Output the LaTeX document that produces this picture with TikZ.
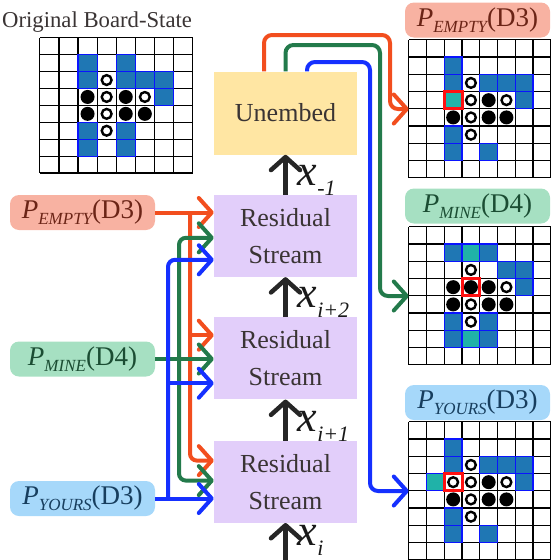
\documentclass[tikz,border=0pt]{standalone}
\usepackage{fontspec}
\setmainfont{Liberation Serif}
\usetikzlibrary{positioning}
\usetikzlibrary{arrows.meta}
\usepackage{xcolor}

\definecolor{cRed}{HTML}{F24E1E}
\definecolor{cGreen}{HTML}{237A4B}
\definecolor{cBlue}{HTML}{1530FF}
\definecolor{fEmpty}{HTML}{F8B2A2}
\definecolor{tEmpty}{HTML}{6B2416}
\definecolor{fMine}{HTML}{A6E0C2}
\definecolor{tMine}{HTML}{1B4D33}
\definecolor{fYours}{HTML}{A6D8FA}
\definecolor{tYours}{HTML}{173E5E}
\definecolor{fUnemb}{HTML}{FFE6A3}
\definecolor{fRes}{HTML}{E2CEFA}
\definecolor{sqBlue}{HTML}{1F77B4}
\definecolor{sqTeal}{HTML}{20B2A8}
\definecolor{sqEdge}{HTML}{0A14FF}
\definecolor{hiRed}{HTML}{FF1010}
\definecolor{inkGray}{HTML}{3A3434}

\newcommand{\psub}[2]{{\itshape P}\raisebox{-6pt}{\fontsize{17}{17}\selectfont\itshape #1}(#2)}
\newcommand{\xsub}[1]{{\fontsize{44}{44}\selectfont\itshape x}\raisebox{-10pt}{\fontsize{22}{22}\selectfont\itshape #1}}

% board: origin, cell width, cell height, blue cells, white pieces, black pieces
\newcommand{\board}[6]{%
	\begin{scope}[shift={#1}, x=#2, y=-#3]
		\foreach \cx/\cy in {#4} \fill[sqBlue] (\cx,\cy) rectangle ++(1,1);
		\foreach \k in {0,...,8} {\draw[gridln] (\k,0) -- (\k,8); \draw[gridln] (0,\k) -- (8,\k);}
		\foreach \cx/\cy in {#4} \draw[cell] (\cx,\cy) rectangle ++(1,1);
		\foreach \cx/\cy in {#5} \draw[wpc] (\cx+0.5,\cy+0.5) circle[radius=4.9pt];
		\foreach \cx/\cy in {#6} \fill (\cx+0.5,\cy+0.5) circle[radius=7pt];
	\end{scope}}

\begin{document}
\begin{tikzpicture}[x=1pt, y=-1pt,
	>={Straight Barb[length=13pt,width=29pt,round]},
	box/.style={rectangle, minimum width=143pt, minimum height=82pt, inner sep=0, text=inkGray, align=center, font=\fontsize{26}{37}\selectfont},
	res/.style={box, fill=fRes},
	emb/.style={box, fill=fUnemb, minimum height=83pt},
	lbl/.style={rectangle, rounded corners=9pt, minimum width=145pt, minimum height=35pt, inner sep=0, font=\fontsize{27}{27}\selectfont},
	bnode/.style={rectangle, inner sep=0, minimum width=142pt, minimum height=138pt},
	gridln/.style={line width=1.2pt, black},
	cell/.style={line width=1.2pt, draw=sqEdge},
	wpc/.style={line width=2.4pt, black, fill=white},
	hilite/.style={line width=3pt, draw=hiRed},
	flow/.style={->, line width=4.5pt, draw=black!85},
	xl/.style={pos=0, anchor=south west, xshift=10pt, yshift=-3pt, inner sep=0, text=black!90},
	redl/.style={->, line width=4pt, draw=cRed},
	greenl/.style={->, line width=4pt, draw=cGreen},
	bluel/.style={->, line width=4pt, draw=cBlue},
	]
	\useasboundingbox (0,0) rectangle (554,560);
	
	%Nodes
	\node[res]  (rs1)  at (285.5,236)          {Residual\\Stream};
	\node[res]  (rs2)  [below=40pt of rs1]     {Residual\\Stream};
	\node[res]  (rs3)  [below=41pt of rs2]     {Residual\\Stream};
	\node[emb]  (unemb) [above=40pt of rs1]    {Unembed};
	
	\node[lbl, fill=fEmpty, text=tEmpty] (lblE) at (82.5,212.5) {\psub{EMPTY}{D3}};
	\node[lbl, fill=fMine, text=tMine]   (lblM) at (82.5,359)   {\psub{MINE}{D4}};
	\node[lbl, fill=fYours, text=tYours] (lblY) at (82.5,498.5) {\psub{YOURS}{D3}};
	
	\node[lbl, fill=fEmpty, text=tEmpty] (outE) at (477.5,20)   {\psub{EMPTY}{D3}};
	\node[lbl, fill=fMine, text=tMine]   (outM) at (477.5,206)  {\psub{MINE}{D4}};
	\node[lbl, fill=fYours, text=tYours] (outY) at (477.5,402.5) {\psub{YOURS}{D3}};
	
	\node[anchor=base west, inner sep=0, text=inkGray, font=\fontsize{22.7}{22.7}\selectfont] (title) at (2,27) {Original Board-State};
	
	\node[bnode, minimum width=153pt, minimum height=135pt] (b0) at (116.5,105.5) {};
	\node[bnode] (b1) at (480,109) {};
	\node[bnode] (b2) at (480,296) {};
	\node[bnode] (b3) at (480,491) {};
	
	\coordinate (xin)   at (285.5,561);
	\coordinate (busR)  at (190,212.5);
	\coordinate (busG)  at (179,359);
	\coordinate (busB)  at (168,498.5);
	\coordinate (rs1G)  at ([yshift=-43pt]rs1.north west);
	\coordinate (rs1B)  at ([yshift=-65pt]rs1.north west);
	\coordinate (rs2R)  at ([yshift=-18pt]rs2.north west);
	\coordinate (rs2B)  at ([yshift=-66pt]rs2.north west);
	\coordinate (rs3R)  at ([yshift=-20pt]rs3.north west);
	\coordinate (rs3G)  at ([yshift=-40pt]rs3.north west);
	\coordinate (turnR) at (390,35);
	\coordinate (turnG) at (380,45);
	\coordinate (turnB) at (370,62);
	
	%Boards
	\board{(b0.north west)}{19.1pt}{16.9pt}
		{2/1,4/1,2/2,4/2,5/2,6/2,6/3,2/5,4/5,2/6,4/6}
		{3/2,3/3,5/3,3/4,3/5}
		{2/3,4/3,2/4,4/4,5/4}
	\board{(b1.north west)}{17.75pt}{17.25pt}
		{2/1,2/2,4/2,5/2,6/2,6/3,2/5,2/6,4/6}
		{3/2,3/3,5/3,3/4,3/5}
		{4/3,2/4,4/4,5/4}
	\board{(b2.north west)}{17.75pt}{17.25pt}
		{2/1,4/1,5/2,6/2,6/3,2/5,4/5,2/6,4/6}
		{3/2,5/3,3/4,3/5}
		{2/3,3/3,4/3,2/4,4/4,5/4}
	\board{(b3.north west)}{17.75pt}{17.25pt}
		{2/1,2/2,4/2,5/2,6/2,6/3,2/5,2/6,4/6}
		{2/3,3/2,3/3,5/3,3/4,3/5}
		{4/3,2/4,4/4,5/4}
	
	% probed squares
	\begin{scope}[shift={(b1.north west)}, x=17.75pt, y=-17.25pt]
		\fill[sqTeal] (2,3) rectangle ++(1,1);
		\draw[hilite] (2,3) rectangle ++(1,1);
	\end{scope}
	\begin{scope}[shift={(b2.north west)}, x=17.75pt, y=-17.25pt]
		\foreach \cx/\cy in {3/1,3/6} {\fill[sqTeal] (\cx,\cy) rectangle ++(1,1); \draw[cell] (\cx,\cy) rectangle ++(1,1);}
		\draw[hilite] (3,3) rectangle ++(1,1);
	\end{scope}
	\begin{scope}[shift={(b3.north west)}, x=17.75pt, y=-17.25pt]
		\fill[sqTeal] (1,3) rectangle ++(1,1);
		\draw[cell] (1,3) rectangle ++(1,1);
		\draw[hilite] (2,3) rectangle ++(1,1);
	\end{scope}
	
	%Lines
	\draw[flow] (xin)       to node[xl, yshift=6pt] {\xsub{i}}   (rs3.south);
	\draw[flow] (rs3.north) to node[xl] {\xsub{i+1}} (rs2.south);
	\draw[flow] (rs2.north) to node[xl] {\xsub{i+2}} (rs1.south);
	\draw[flow] (rs1.north) to node[xl] {\xsub{-1}}  (unemb.south);
	
	\draw[redl] (lblE.east) -- (rs1.west |- lblE.east);
	\draw[redl, rounded corners=7pt] (busR) |- (rs3R);
	\draw[redl] (busR |- rs2R) -- (rs2R);
	
	\draw[greenl] (lblM.east) -- (rs2.west |- lblM.east);
	\draw[greenl, <->, rounded corners=7pt] (rs1G) -| (busG) |- (rs3G);
	
	\draw[bluel] (lblY.east) -- (rs3.west |- lblY.east);
	\draw[bluel, rounded corners=7pt] (busB) |- (rs1B);
	\draw[bluel] (busB |- rs2B) -- (rs2B);
	
	\draw[redl, rounded corners=8pt]   ([xshift=-21.5pt]unemb.north) |- (turnR) |- (b1.west);
	\draw[greenl, rounded corners=8pt] (unemb.north) |- (turnG) |- (b2.west);
	\draw[bluel, rounded corners=8pt]  ([xshift=21.5pt]unemb.north) |- (turnB) |- (b3.west);
\end{tikzpicture}
\end{document}
